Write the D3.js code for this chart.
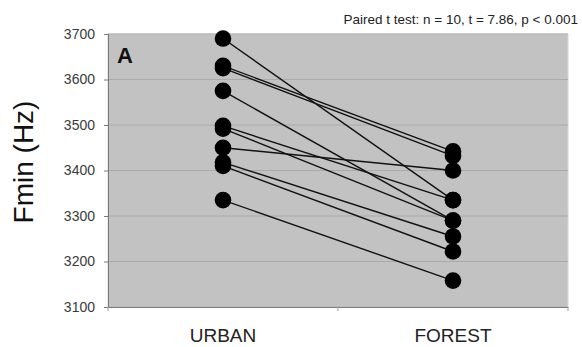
<!DOCTYPE html>
<html><head><meta charset="utf-8">
<script src="https://cdn.jsdelivr.net/npm/d3@7"></script>
<style>body{margin:0;background:#fff}svg{display:block}</style>
</head><body>
<svg id="c" width="582" height="347"></svg>
<script>
const categories = ["URBAN", "FOREST"];
const urban  = [3690, 3630, 3625, 3575, 3498, 3492, 3450, 3418, 3410, 3335];
const forest = [3335, 3442, 3432, 3290, 3335, 3290, 3400, 3255, 3222, 3158];
const yTicks = [3100, 3200, 3300, 3400, 3500, 3600, 3700];
const annotation = "Paired t test: n = 10, t = 7.86, p < 0.001";
const panelLabel = "A";
const yLabel = "Fmin (Hz)";

const svg = d3.select("#c");
const m = {l:108, r:568, t:34, b:307};
const x = d3.scaleBand().domain(categories).range([m.l, m.r]);
const y = d3.scaleLinear().domain([3100, 3700]).range([m.b, m.t]);

svg.append("rect").attr("x", m.l).attr("y", m.t).attr("width", m.r-m.l).attr("height", m.b-m.t)
  .attr("fill", "#c2c2c2").attr("stroke", "#d8d8d8");

svg.append("g").selectAll("line").data(yTicks).join("line")
  .attr("x1", m.l).attr("x2", m.r).attr("y1", d=>y(d)).attr("y2", d=>y(d))
  .attr("stroke", "#aaaaaa").attr("stroke-width", 1);

const ya = svg.append("g").attr("transform", `translate(${m.l},0)`)
  .call(d3.axisLeft(y).tickValues(yTicks).tickSize(4).tickPadding(9).tickFormat(d3.format("d")));
ya.select(".domain").attr("stroke", "#7a7a7a");
ya.selectAll(".tick line").attr("stroke", "#7a7a7a");
ya.selectAll("text").attr("font-family", "Liberation Sans, Arial, sans-serif").attr("font-size", 14).attr("fill", "#3a3a3a");

const xa = svg.append("g").attr("transform", `translate(0,${m.b})`)
  .call(d3.axisBottom(x).tickSize(0).tickPadding(22));
xa.select(".domain").attr("stroke", "#7a7a7a");
xa.selectAll("text").attr("font-family", "Liberation Sans, Arial, sans-serif").attr("font-size", 19).attr("fill", "#222");
svg.append("g").selectAll("line").data([m.l, x(categories[1]), m.r]).join("line")
  .attr("x1", d=>d).attr("x2", d=>d).attr("y1", m.b).attr("y2", m.b+4).attr("stroke", "#a0a0a0");

const cx = c => x(c) + x.bandwidth()/2;
const pairs = urban.map((u,i)=>({u, f: forest[i]}));
svg.append("g").selectAll("line").data(pairs).join("line")
  .attr("x1", cx("URBAN")).attr("x2", cx("FOREST"))
  .attr("y1", d=>y(d.u)).attr("y2", d=>y(d.f))
  .attr("stroke", "#111").attr("stroke-width", 1.4);

svg.append("g").selectAll("circle").data(urban).join("circle")
  .attr("cx", cx("URBAN")).attr("cy", d=>y(d)).attr("r", 8.3).attr("fill", "#000");
svg.append("g").selectAll("circle").data(forest).join("circle")
  .attr("cx", cx("FOREST")).attr("cy", d=>y(d)).attr("r", 8.3).attr("fill", "#000");

svg.append("text").attr("x", 117).attr("y", 63).text(panelLabel)
  .attr("font-family", "Liberation Sans, Arial, sans-serif").attr("font-weight", "bold").attr("font-size", 22).attr("fill", "#111");

svg.append("text").attr("x", 578).attr("y", 24).attr("text-anchor", "end").text(annotation)
  .attr("font-family", "Liberation Sans, Arial, sans-serif").attr("font-size", 13.5).attr("fill", "#222");

svg.append("text").attr("transform", "translate(33,162) rotate(-90)").attr("text-anchor", "middle").text(yLabel)
  .attr("font-family", "Liberation Sans, Arial, sans-serif").attr("font-size", 28).attr("fill", "#111");
</script>
</body></html>
